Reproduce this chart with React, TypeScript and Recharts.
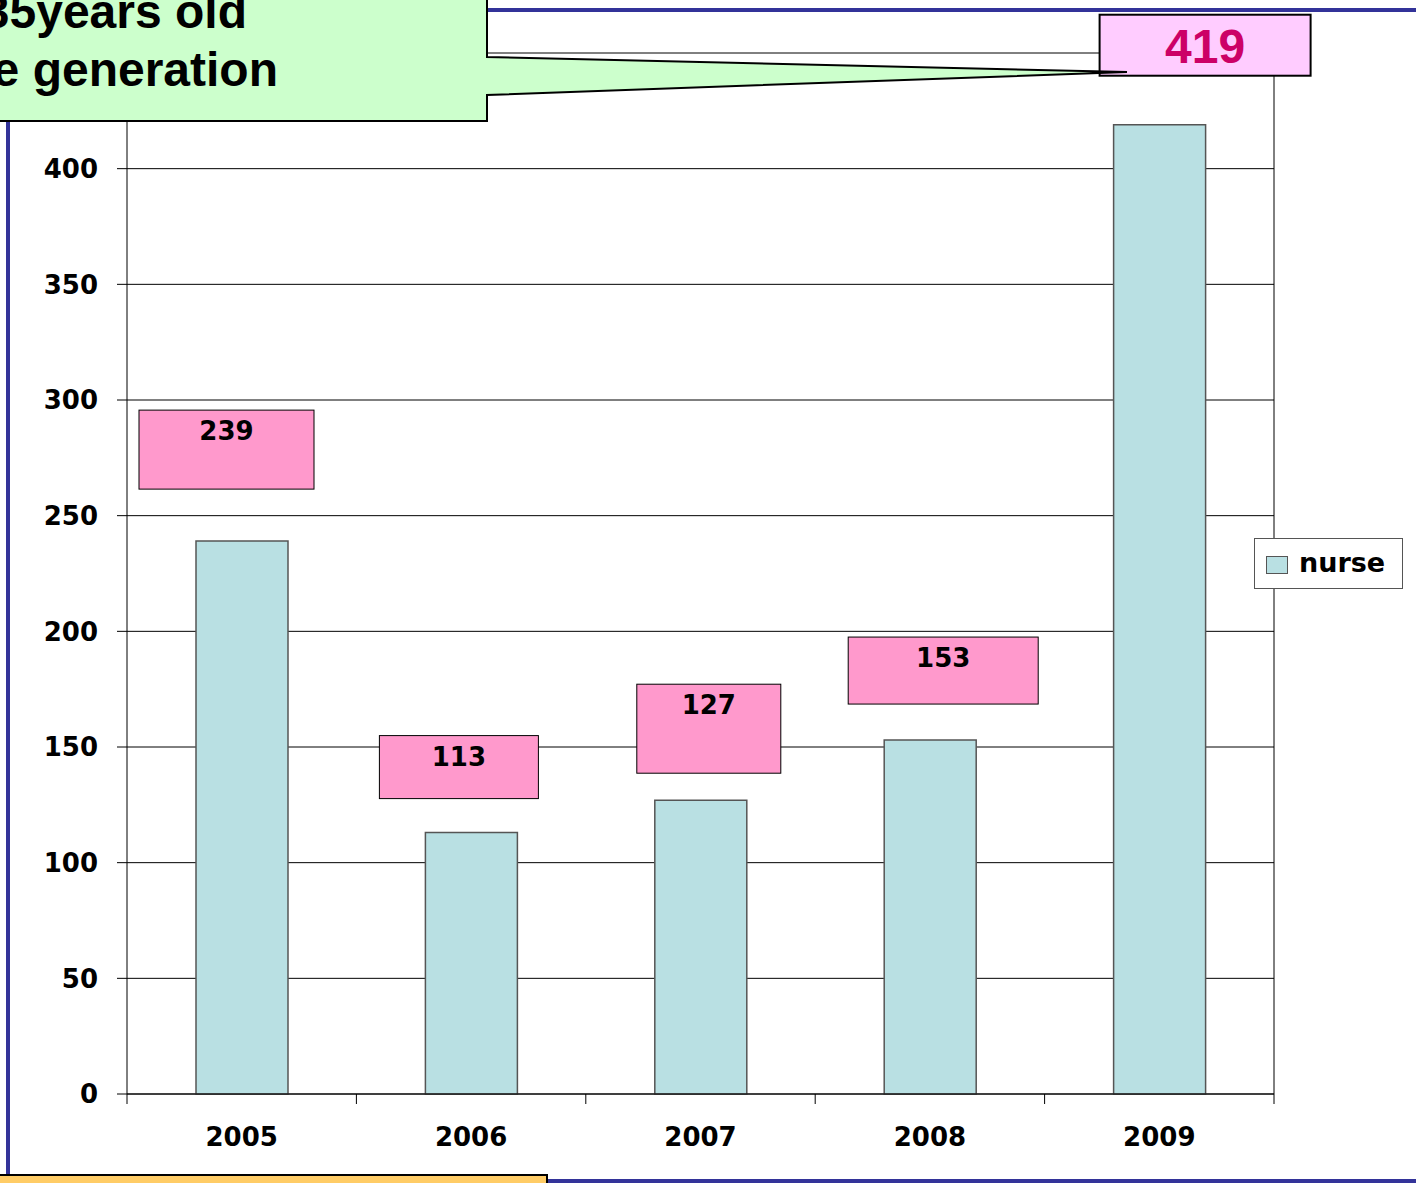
import React from "react";
import {
  BarChart,
  Bar,
  XAxis,
  YAxis,
  CartesianGrid,
  LabelList,
} from "recharts";

const YEARS = ["2005", "2006", "2007", "2008", "2009"];
const NURSE = [239, 113, 127, 153, 419];
const Y_TICKS = [0, 50, 100, 150, 200, 250, 300, 350, 400, 450];
const CALLOUT_LINES = ["35years old", "e generation"];
const SERIES_NAME = "nurse";

// hand placed value boxes, relative to the bar's centre and top
const BOX_LAYOUT = [
  { dx: -103, dy: -131, w: 175, h: 79 },
  { dx: -92, dy: -97, w: 159, h: 63 },
  { dx: -64, dy: -116, w: 144, h: 89 },
  { dx: -82, dy: -103, w: 190, h: 67 },
  { dx: -60, dy: -110, w: 211, h: 61 },
];

const data = YEARS.map((year, i) => ({ year, nurse: NURSE[i] }));

const BAR_FILL = "#b9e0e3";
const TICK_FONT = "'DejaVu Sans', sans-serif";

function ValueBox(props: any) {
  const { x, y, width, index, value } = props;
  const box = BOX_LAYOUT[index];
  const cx = x + width / 2;
  const top = y + box.dy;
  const big = index === 4;
  return (
    <g>
      <rect
        x={cx + box.dx}
        y={top}
        width={box.w}
        height={box.h}
        fill={big ? "#ffccff" : "#ff99cc"}
        stroke="#000"
        strokeWidth={big ? 2 : 1}
      />
      <text
        x={cx + box.dx + box.w / 2}
        y={top + (big ? 32 : 21)}
        textAnchor="middle"
        dominantBaseline="central"
        fontFamily={big ? "'Liberation Sans', Arial, sans-serif" : TICK_FONT}
        fontWeight="bold"
        fontSize={big ? 48 : 26}
        fill={big ? "#cc0066" : "#000"}
      >
        {value}
      </text>
    </g>
  );
}

function YearTick(props: any) {
  const { x, y, payload, index } = props;
  const half = payload?.offset || 114.7;
  return (
    <g>
      {index === 0 && (
        <line x1={x - half} x2={x - half} y1={y} y2={y + 10} stroke="#000" />
      )}
      <line x1={x + half} x2={x + half} y1={y} y2={y + 10} stroke="#000" />
      <text
        x={x}
        y={y + 43}
        textAnchor="middle"
        dominantBaseline="central"
        fontFamily={TICK_FONT}
        fontWeight="bold"
        fontSize={26}
        fill="#000"
      >
        {payload.value}
      </text>
    </g>
  );
}

function NurseLegend() {
  return (
    <div
      style={{
        position: "absolute",
        left: 1254,
        top: 538,
        width: 147,
        height: 49,
        border: "1px solid #555",
        background: "#fff",
        fontFamily: TICK_FONT,
        fontWeight: "bold",
        fontSize: 27,
      }}
    >
      <div
        style={{
          position: "absolute",
          left: 11,
          top: 17,
          width: 20,
          height: 16,
          background: BAR_FILL,
          border: "1px solid #555",
        }}
      />
      <div style={{ position: "absolute", left: 44, top: 9, lineHeight: "30px" }}>
        {SERIES_NAME}
      </div>
    </div>
  );
}

export default function App() {
  return (
    <div
      style={{
        position: "absolute",
        left: 0,
        top: 0,
        width: 1416,
        height: 1183,
        overflow: "hidden",
        background: "#fff",
      }}
    >
      <BarChart
        width={1416}
        height={1183}
        data={data}
        margin={{ top: 53, right: 140, left: 67, bottom: 49 }}
      >
        <CartesianGrid vertical={false} stroke="#000" strokeWidth={1} />
        <XAxis
          dataKey="year"
          height={40}
          tickSize={0}
          tickMargin={0}
          axisLine={{ stroke: "#000" }}
          tickLine={false}
          tick={<YearTick />}
          interval={0}
        />
        <YAxis
          width={60}
          domain={[0, 450]}
          ticks={Y_TICKS}
          interval={0}
          tickSize={10}
          tickMargin={19}
          tickFormatter={(v: number) => (v === 450 ? "" : String(v))}
          axisLine={{ stroke: "#000" }}
          tickLine={{ stroke: "#000" }}
          tick={{
            fill: "#000",
            fontSize: 26,
            fontWeight: "bold",
            fontFamily: TICK_FONT,
          }}
        />
        <YAxis
          yAxisId="frame"
          orientation="right"
          width={2}
          domain={[0, 450]}
          tick={false}
          tickLine={false}
          axisLine={{ stroke: "#000" }}
        />
        <Bar
          dataKey="nurse"
          name={SERIES_NAME}
          fill={BAR_FILL}
          stroke="#555"
          strokeWidth={1.5}
          barSize={92}
          isAnimationActive={false}
        >
          <LabelList dataKey="nurse" content={<ValueBox />} />
        </Bar>
      </BarChart>

      <NurseLegend />

      {/* slide decorations over the chart */}
      <svg
        width={1416}
        height={1183}
        style={{ position: "absolute", left: 0, top: 0, pointerEvents: "none" }}
      >
        <line x1={8} x2={8} y1={0} y2={1183} stroke="#333399" strokeWidth={4} />
        <line x1={487} x2={1416} y1={10} y2={10} stroke="#333399" strokeWidth={4} />
        <line x1={547} x2={1416} y1={1181} y2={1181} stroke="#333399" strokeWidth={4} />
        <polygon
          points="-5,-5 487,-5 487,57 1127,72 487,95 487,121 -5,121"
          fill="#ccffcc"
          stroke="#000"
          strokeWidth={2}
        />
        <g
          fontFamily="'Liberation Sans', Arial, sans-serif"
          fontWeight="bold"
          fontSize={48}
          fill="#000"
          textAnchor="end"
        >
          <text x={247} y={28}>
            {CALLOUT_LINES[0]}
          </text>
          <text x={278} y={86}>
            {CALLOUT_LINES[1]}
          </text>
        </g>
        <rect x={-5} y={1175} width={552} height={20} fill="#ffcc66" stroke="#000" strokeWidth={2} />
      </svg>
    </div>
  );
}
